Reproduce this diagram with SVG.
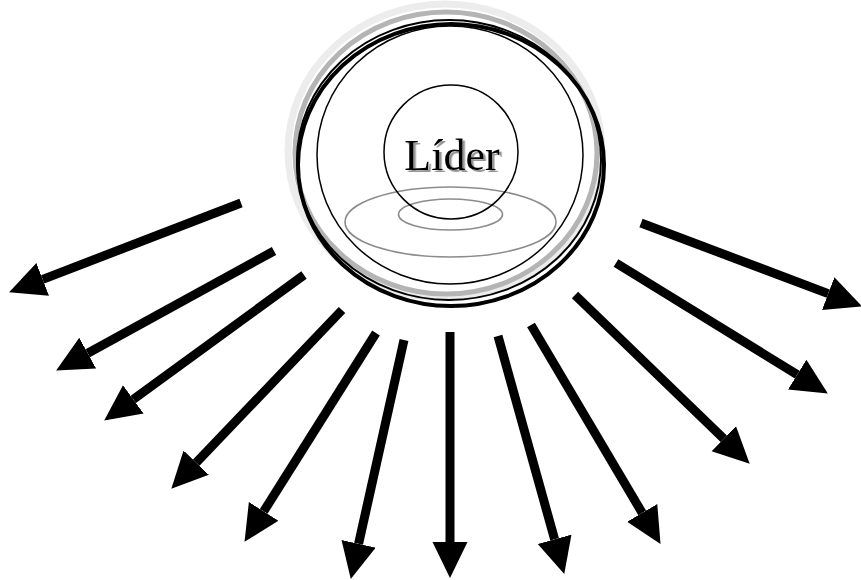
<svg xmlns="http://www.w3.org/2000/svg" width="861" height="580" viewBox="0 0 861 580">
<style>
.arrow{stroke:#000;stroke-width:9;fill:none;marker-end:url(#head)}
.blk{fill:none;stroke:#000}
.gray{fill:none;stroke:#8c8c8c;stroke-width:1.6}
.lbl{font-family:"Liberation Serif","Times New Roman",serif;font-size:44px;text-anchor:middle}
</style>
<defs>
<marker id="head" markerUnits="userSpaceOnUse" markerWidth="37" markerHeight="37" refX="0" refY="17.5" orient="auto">
<path d="M0,0 L36,17.5 L0,35 z" fill="#000"/>
</marker>
<filter id="shadow" x="-20%" y="-20%" width="140%" height="140%">
<feDropShadow dx="2.5" dy="2" stdDeviation="0.6" flood-color="#8a8a8a" flood-opacity="0.9"/>
</filter>
</defs>
<rect width="861" height="580" fill="#fff"/>
<g id="leader">
<ellipse cx="445" cy="151" rx="157" ry="147" fill="none" stroke="#ececec" stroke-width="7"/>
<ellipse cx="446" cy="153" rx="151" ry="141" fill="none" stroke="#b4b4b4" stroke-width="5"/>
<ellipse cx="449" cy="160" rx="152" ry="140" class="blk" stroke-width="2"/>
<ellipse cx="451" cy="165" rx="153" ry="141" class="blk" stroke-width="4"/>
<ellipse cx="450" cy="155" rx="133" ry="129" class="blk" stroke-width="1.5"/>
<ellipse cx="450.5" cy="222" rx="105.5" ry="35" class="gray"/>
<ellipse cx="450.5" cy="214.5" rx="52" ry="15.5" class="gray"/>
<circle cx="451" cy="152" r="67" class="blk" stroke-width="1.5"/>
<text x="452" y="170" class="lbl" fill="#000" filter="url(#shadow)">Líder</text>
</g>
<g id="connectors">
<line class="arrow" x1="241" y1="203" x2="42.7" y2="279.4"/>
<line class="arrow" x1="274" y1="251" x2="87.7" y2="353.2"/>
<line class="arrow" x1="304" y1="275" x2="133.3" y2="399.4"/>
<line class="arrow" x1="342" y1="310" x2="196.2" y2="462.7"/>
<line class="arrow" x1="376" y1="333" x2="263.7" y2="511.4"/>
<line class="arrow" x1="404" y1="340" x2="358.6" y2="543.8"/>
<line class="arrow" x1="450" y1="332" x2="450" y2="542"/>
<line class="arrow" x1="498" y1="336" x2="554.6" y2="539.3"/>
<line class="arrow" x1="531" y1="325" x2="642.2" y2="512.9"/>
<line class="arrow" x1="575" y1="295" x2="723.8" y2="438.7"/>
<line class="arrow" x1="616" y1="263" x2="797.2" y2="374.6"/>
<line class="arrow" x1="641" y1="223" x2="828.2" y2="293.6"/>
</g>
</svg>
